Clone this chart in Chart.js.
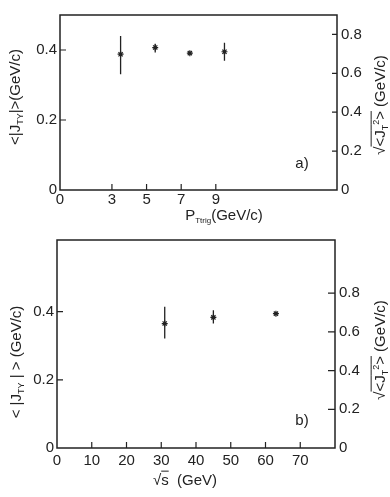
<!DOCTYPE html>
<html><head><meta charset="utf-8">
<script src="https://cdn.jsdelivr.net/npm/chart.js@4"></script>
<style>
html,body{margin:0;padding:0;background:#fff;width:390px;height:497px;overflow:hidden}
.w{position:absolute;left:0;width:390px}
</style></head><body>
<div class="w" style="top:0;height:230px"><canvas id="c1" width="390" height="230"></canvas></div>
<div class="w" style="top:230px;height:267px"><canvas id="c2" width="390" height="267"></canvas></div>
<script>
// ---- data, panel a) ----
const pTrig      = [3.5, 5.5, 7.5, 9.5];
const jtyA       = [0.388, 0.407, 0.391, 0.395];
const jtyA_lo    = [0.331, 0.393, null, 0.369];
const jtyA_hi    = [0.440, 0.418, null, 0.421];
const xTicksA    = [0, 3, 5, 7, 9];
const yTicksA    = [0, 0.2, 0.4];
const y2TicksA   = [0, 0.2, 0.4, 0.6, 0.8];
// ---- data, panel b) ----
const sqrtS      = [31, 45, 63];
const jtyB       = [0.365, 0.383, 0.394];
const jtyB_lo    = [0.321, 0.365, null];
const jtyB_hi    = [0.414, 0.404, null];
const xTicksB    = [0, 10, 20, 30, 40, 50, 60, 70];
const yTicksB    = [0, 0.2, 0.4];
const y2TicksB   = [0, 0.2, 0.4, 0.6, 0.8];

const INK = '#222';
const FONT = '"Liberation Sans", Arial, sans-serif';

function rich(ctx, segs, cx, cy, rot, base) {
  ctx.save();
  ctx.translate(cx, cy);
  ctx.rotate(rot);
  ctx.fillStyle = INK; ctx.strokeStyle = INK;
  let w = 0;
  const ws = segs.map(g => { ctx.font = `${g.s || base}px ${FONT}`; const m = ctx.measureText(g.t).width; w += m; return m; });
  let x = -w / 2;
  const by = base * 0.36;
  ctx.textBaseline = 'alphabetic'; ctx.textAlign = 'left';
  segs.forEach((g, i) => {
    ctx.font = `${g.s || base}px ${FONT}`;
    ctx.fillText(g.t, x, by + (g.dy || 0));
    if (g.ov) {
      ctx.lineWidth = 1;
      ctx.beginPath(); ctx.moveTo(x, by - base * 0.95); ctx.lineTo(x + ws[i], by - base * 0.95); ctx.stroke();
    }
    x += ws[i];
  });
  ctx.restore();
}

function makeDeco(cfg) {
  return {
    id: 'deco',
    afterDatasetsDraw(chart) {
      const ctx = chart.ctx, a = chart.chartArea;
      const xs = chart.scales.x, ys = chart.scales.y, y2 = chart.scales.y2;
      ctx.save();
      ctx.strokeStyle = INK; ctx.lineWidth = 1.5;
      ctx.strokeRect(a.left, a.top, a.right - a.left, a.bottom - a.top);
      ctx.lineWidth = 1.2;
      ctx.beginPath();
      xs.ticks.forEach(t => { if (t.value === 0) return; const px = xs.getPixelForValue(t.value); ctx.moveTo(px, a.bottom); ctx.lineTo(px, a.bottom - cfg.xt); });
      ys.ticks.forEach(t => { if (t.value === 0) return; const py = ys.getPixelForValue(t.value); ctx.moveTo(a.left, py); ctx.lineTo(a.left + cfg.yt, py); });
      y2.ticks.forEach(t => { if (t.value === 0) return; const py = y2.getPixelForValue(t.value); ctx.moveTo(a.right - cfg.y2t, py); ctx.lineTo(a.right, py); });
      ctx.stroke();
      // error bars
      ctx.lineWidth = 1.3;
      ctx.beginPath();
      cfg.xv.forEach((v, i) => {
        if (cfg.lo[i] == null) return;
        const px = xs.getPixelForValue(v);
        ctx.moveTo(px, ys.getPixelForValue(cfg.lo[i]));
        ctx.lineTo(px, ys.getPixelForValue(cfg.hi[i]));
      });
      ctx.stroke();
      ctx.restore();
      cfg.texts.forEach(tx => rich(ctx, tx.segs, tx.x, tx.y, tx.r || 0, tx.b || 15));
    }
  };
}

function noPad(s) { s.paddingTop = 0; s.paddingBottom = 0; s.paddingLeft = 0; s.paddingRight = 0; }

function makeChart(id, xv, yv, xTicks, yTicks, y2Ticks, xMax, yMax, y2Max, dims, deco) {
  const tickFont = { family: FONT, size: 15 };
  return new Chart(document.getElementById(id), {
    type: 'scatter',
    data: { datasets: [{
      data: xv.map((x, i) => ({ x, y: yv[i] })),
      pointStyle: 'star', radius: 3, borderWidth: 1.2,
      borderColor: INK, backgroundColor: INK, showLine: false
    }] },
    options: {
      responsive: false, devicePixelRatio: 1, animation: false,
      layout: { padding: { top: dims.top, left: 0, right: 0, bottom: 0 } },
      plugins: { legend: { display: false }, tooltip: { enabled: false } },
      scales: {
        x: {
          type: 'linear', min: 0, max: xMax,
          afterBuildTicks: s => { s.ticks = xTicks.map(v => ({ value: v })); },
          afterFit: s => { s.height = dims.xh; noPad(s); },
          grid: { display: false, drawTicks: false }, border: { display: false },
          ticks: { font: tickFont, color: INK, padding: dims.xpad, maxRotation: 0, autoSkip: false, callback: v => String(v) }
        },
        y: {
          position: 'left', min: 0, max: yMax,
          afterBuildTicks: s => { s.ticks = yTicks.map(v => ({ value: v })); },
          afterFit: s => { s.width = dims.yw; noPad(s); },
          grid: { display: false, drawTicks: false }, border: { display: false },
          ticks: { font: tickFont, color: INK, padding: dims.ypad, callback: v => v === 0 ? '0' : v.toFixed(1) }
        },
        y2: {
          position: 'right', min: 0, max: y2Max,
          afterBuildTicks: s => { s.ticks = y2Ticks.map(v => ({ value: v })); },
          afterFit: s => { s.width = dims.y2w; noPad(s); },
          grid: { display: false, drawTicks: false }, border: { display: false },
          ticks: { font: tickFont, color: INK, padding: 4, callback: v => v === 0 ? '0' : v.toFixed(1) }
        }
      }
    },
    plugins: [makeDeco(deco)]
  });
}

const sqrtTitle = [
  { t: '\u221A' }, { t: '<J', ov: true }, { t: 'T', s: 9, dy: 3, ov: true }, { t: '2', s: 9, dy: -6, ov: true }, { t: '>', ov: true }, { t: ' (GeV/c)' }
];

makeChart('c1', pTrig, jtyA, xTicksA, yTicksA, y2TicksA, 16, 0.5, 0.9,
  { top: 15, xh: 40, yw: 60, y2w: 53, xpad: 1, ypad: 3 },
  { xt: 6, yt: 6, y2t: 5, xv: pTrig, lo: jtyA_lo, hi: jtyA_hi, texts: [
    { segs: [{ t: '<|J' }, { t: 'TY', s: 9, dy: 3 }, { t: '|>(GeV/c)' }], x: 15, y: 97, r: -Math.PI / 2 },
    { segs: sqrtTitle, x: 380, y: 105, r: -Math.PI / 2 },
    { segs: [{ t: 'P' }, { t: 'Ttrig', s: 8, dy: 3 }, { t: '(GeV/c)' }], x: 224, y: 215 },
    { segs: [{ t: 'a)' }], x: 302, y: 163 }
  ] });

makeChart('c2', sqrtS, jtyB, xTicksB, yTicksB, y2TicksB, 80, 0.61, 1.075,
  { top: 10, xh: 49, yw: 57, y2w: 55, xpad: 4, ypad: 3 },
  { xt: 6, yt: 6, y2t: 7, xv: sqrtS, lo: jtyB_lo, hi: jtyB_hi, texts: [
    { segs: [{ t: '< |J' }, { t: 'TY', s: 9, dy: 3 }, { t: ' | > (GeV/c)' }], x: 16, y: 132, r: -Math.PI / 2 },
    { segs: sqrtTitle, x: 380, y: 120, r: -Math.PI / 2 },
    { segs: [{ t: '\u221A' }, { t: 's', ov: true }, { t: '  (GeV)' }], x: 185, y: 250 },
    { segs: [{ t: 'b)' }], x: 302, y: 190 }
  ] });
</script>
</body></html>
